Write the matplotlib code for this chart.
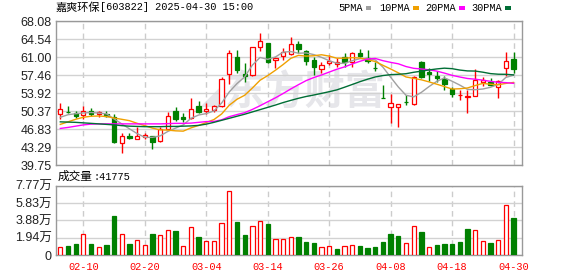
import numpy as np
import matplotlib.pyplot as plt
from matplotlib.patches import Rectangle

# trading days shown (MM-DD)
dates = ("02-05 02-06 02-07 02-10 02-11 02-12 02-13 02-14 02-17 02-18 02-19 02-20 "
         "02-21 02-24 02-25 02-26 02-27 02-28 03-03 03-04 03-05 03-06 03-07 03-10 "
         "03-11 03-12 03-13 03-14 03-17 03-18 03-19 03-20 03-21 03-24 03-25 03-26 "
         "03-27 03-28 03-31 04-01 04-02 04-03 04-07 04-08 04-09 04-10 04-11 04-14 "
         "04-15 04-16 04-17 04-18 04-21 04-22 04-23 04-24 04-25 04-28 04-29 04-30").split()

opens = [49.78, 50.30, 49.98, 49.70, 50.43, 49.80, 49.78, 49.31, 44.08, 45.55,
         44.86, 45.30, 45.52, 44.45, 46.90, 50.45, 49.30, 49.00, 51.40, 50.37,
         50.60, 51.50, 57.65, 61.00, 57.65, 57.46, 63.08, 63.75, 60.50, 61.20,
         61.70, 63.55, 62.20, 60.45, 58.60, 59.85, 59.65, 61.00, 60.15, 61.90,
         60.80, 58.90, 53.05, 51.20, 51.16, 52.30, 51.75, 60.00, 58.15, 57.30,
         56.70, 54.70, 53.50, 53.15, 53.45, 56.15, 56.20, 55.10, 58.85, 60.65]
highs = [51.95, 51.41, 50.49, 51.41, 50.96, 50.49, 50.50, 49.84, 46.05, 46.16,
         47.30, 46.16, 45.60, 47.20, 50.30, 51.15, 50.00, 52.95, 52.45, 52.00,
         51.55, 57.20, 62.40, 62.40, 59.80, 63.00, 65.70, 63.90, 61.00, 62.90,
         65.05, 64.20, 62.40, 61.10, 60.00, 61.45, 60.80, 61.78, 62.00, 62.60,
         62.43, 60.10, 55.55, 53.70, 51.80, 53.50, 57.40, 60.30, 58.90, 58.40,
         57.30, 55.20, 54.60, 54.50, 58.60, 57.10, 56.90, 56.55, 62.00, 62.00]
lows = [48.80, 49.98, 49.06, 48.80, 49.51, 49.31, 49.31, 44.20, 42.23, 44.86,
        44.86, 44.98, 43.02, 44.40, 46.80, 48.50, 48.30, 48.80, 50.00, 49.84,
        50.24, 51.20, 55.70, 57.85, 56.20, 57.30, 62.30, 59.80, 58.80, 60.50,
        61.40, 61.80, 59.50, 57.50, 57.85, 59.50, 59.03, 59.03, 59.00, 61.10,
        59.93, 58.35, 52.90, 48.10, 47.20, 51.60, 51.60, 57.00, 56.30, 56.10,
        54.60, 53.10, 52.50, 50.10, 53.40, 55.40, 55.40, 52.95, 57.30, 57.85]
closes = [50.77, 50.20, 49.45, 50.37, 49.90, 50.24, 49.45, 44.39, 45.52, 45.05,
          45.52, 45.75, 44.39, 46.98, 49.40, 48.80, 48.90, 50.80, 50.30, 50.83,
          51.35, 56.70, 61.78, 58.50, 57.35, 62.96, 64.20, 60.00, 60.80, 62.10,
          63.55, 62.55, 60.30, 59.15, 59.40, 60.25, 60.05, 60.15, 61.78, 61.35,
          60.35, 58.80, 52.95, 51.95, 51.75, 52.20, 57.18, 57.10, 57.65, 56.85,
          55.70, 53.85, 53.60, 53.40, 56.55, 56.60, 55.55, 56.40, 60.30, 58.70]
volumes = [8595, 10090, 12330, 23170, 12330, 8595, 11210, 43720, 23170, 12330,
           16440, 10840, 23540, 22050, 27650, 26900, 9716, 31020, 19810, 15320,
           15320, 35500, 71380, 36620, 22050, 32140, 37740, 34750, 17560, 17560,
           19810, 19810, 14570, 13450, 8595, 9716, 6727, 9716, 10840, 10090,
           7848, 8969, 14570, 23540, 21300, 13080, 32140, 25790, 8595, 10840,
           12330, 12330, 14570, 29150, 27650, 15320, 13450, 16440, 55680, 41775]

ma5 = [49.20, 49.70, 49.90, 50.05, 50.14, 50.03, 49.88, 48.87, 47.90, 46.93,
       45.99, 45.25, 45.25, 45.54, 46.41, 47.06, 47.69, 48.98, 49.64, 49.93,
       50.44, 52.00, 54.19, 55.83, 57.14, 59.46, 60.96, 60.60, 61.06, 62.01,
       62.13, 61.80, 61.86, 61.53, 60.99, 60.33, 59.83, 59.80, 60.33, 60.72,
       60.74, 60.49, 59.05, 57.08, 55.16, 53.53, 53.21, 54.10, 55.24, 56.26,
       56.96, 56.29, 55.53, 54.68, 54.62, 54.76, 55.10, 55.66, 57.04, 57.47]
ma10 = [47.80, 48.30, 48.80, 49.20, 49.40, 49.45, 49.35, 49.05, 48.80, 48.53,
        48.01, 47.56, 47.06, 46.72, 46.67, 46.53, 46.47, 47.11, 47.59, 48.17,
        48.75, 49.85, 51.58, 52.74, 53.53, 54.95, 56.48, 57.40, 58.45, 59.57,
        60.79, 61.38, 61.23, 61.30, 61.50, 61.23, 60.82, 60.83, 60.93, 60.85,
        60.53, 60.16, 59.42, 58.70, 57.94, 57.13, 56.85, 56.57, 56.16, 55.71,
        55.24, 54.75, 54.81, 54.96, 55.44, 55.86, 55.70, 55.60, 55.86, 56.05]
ma20 = [47.00, 47.20, 47.45, 47.70, 47.85, 47.90, 47.90, 47.90, 47.90, 47.90,
        47.90, 47.90, 47.90, 47.90, 47.95, 48.00, 48.00, 48.05, 48.20, 48.35,
        48.38, 48.70, 49.32, 49.73, 50.10, 50.74, 51.47, 52.25, 53.02, 53.87,
        54.77, 55.61, 56.41, 57.02, 57.52, 58.09, 58.65, 59.11, 59.69, 60.21,
        60.66, 60.77, 60.33, 60.00, 59.72, 59.18, 58.83, 58.70, 58.54, 58.28,
        57.89, 57.45, 57.12, 56.83, 56.69, 56.50, 56.27, 56.08, 56.01, 55.88]
ma30 = [48.30, 48.25, 48.20, 48.10, 48.00, 47.90, 47.80, 47.70, 47.55, 47.45,
        47.40, 47.35, 47.35, 47.35, 47.40, 47.40, 47.45, 47.50, 47.60, 47.85,
        48.20, 48.60, 49.00, 49.40, 49.80, 50.25, 50.70, 51.15, 51.60, 52.09,
        52.52, 52.93, 53.29, 53.58, 53.90, 54.23, 54.59, 55.11, 55.65, 56.20,
        56.69, 57.13, 57.41, 57.58, 57.66, 57.77, 58.05, 58.27, 58.51, 58.71,
        58.86, 58.76, 58.49, 58.32, 58.29, 58.07, 57.79, 57.67, 57.65, 57.54]

price_ticks = [39.75, 43.29, 46.83, 50.37, 53.92, 57.46, 61.00, 64.54, 68.08]
vol_ticks = [0, 19425, 38850, 58275, 77700]
vol_labels = ["0", "1.94万", "3.88万", "5.83万", "7.77万"]
tick_dates = ["02-10", "02-20", "03-04", "03-14", "03-26", "04-08", "04-18", "04-30"]

RED = "#ff0000"
GREEN = "#008000"
ma_colors = ["#a0a0a0", "#f0a000", "#ff00ff", "#006e35"]
W, H = 578, 276

plt.rcParams["font.family"] = ["Liberation Sans", "Noto Sans CJK SC", "DejaVu Sans"]
fig = plt.figure(figsize=(W / 100, H / 100), dpi=100)


def box(l, t, r, b):
    return [l / W, 1 - b / H, (r - l) / W, (b - t) / H]


ax = fig.add_axes(box(56, 21.3, 522, 165.3))
axv = fig.add_axes(box(56, 185.7, 522, 255))

x = np.arange(len(dates))
xt = [dates.index(d) for d in tick_dates]

for a in (ax, axv):
    a.set_xlim(-0.56, 60.1)
    for s in a.spines.values():
        s.set_color("#999999")
        s.set_linewidth(1.0)
    a.tick_params(length=0, labelsize=9, labelcolor="#222222", pad=3)
    a.set_xticks(xt)
    a.grid(axis="y", color="#d2d2d2", lw=1.0)
    a.grid(axis="x", color="#cccccc", lw=1.0, ls=(0, (4, 3)))
    a.set_axisbelow(True)

# price panel
ax.set_ylim(39.75, 68.08)
ax.set_yticks(price_ticks)
ax.set_yticklabels(["%.2f" % v for v in price_ticks])
ax.set_xticklabels([])

# watermark (logo + name)
ax.text(213 / W * W / 466 - 56 / 466, 0.5, "◢", transform=ax.transAxes, ha="center",
        va="center", fontsize=24, color="#e6e6ea", family="DejaVu Sans", zorder=0.5)
ax.text((305 - 56) / 466, 0.5, "东方财富", transform=ax.transAxes, ha="center",
        va="center", fontsize=29, fontweight="bold", color="#e6e6ea",
        family="Noto Sans CJK SC", zorder=0.5)

bw = 0.56
for i in x:
    o, h, l, c = opens[i], highs[i], lows[i], closes[i]
    up = c >= o
    col = RED if up else GREEN
    top, bot = max(o, c), min(o, c)
    ax.vlines(i, top, h, color=col, lw=1.0, zorder=3)
    ax.vlines(i, l, bot, color=col, lw=1.0, zorder=3)
    ax.bar(i, max(top - bot, 0.06), bottom=bot, width=bw,
           facecolor="white" if up else GREEN, edgecolor=col, lw=0.9, zorder=4)

for m, col in zip([ma5, ma10, ma20, ma30], ma_colors):
    ax.plot(x, m, color=col, lw=1.0, zorder=5)

# volume panel
axv.set_ylim(0, 77700)
axv.set_yticks(vol_ticks)
axv.set_yticklabels(vol_labels)
axv.set_xticklabels(tick_dates, color=RED, family="Liberation Mono", fontsize=7.4)
axv.tick_params(axis="x", pad=5)
for i in x:
    up = i == 0 or closes[i] >= closes[i - 1]
    axv.bar(i, volumes[i], width=bw, facecolor="white" if up else GREEN,
            edgecolor=RED if up else GREEN, lw=0.9, zorder=3)

# header texts
fig.text(56 / W, 1 - 7.5 / H, "嘉爽环保", family="Noto Sans CJK SC", fontsize=8,
         va="center", ha="left")
fig.text(100 / W, 1 - 7.5 / H, "[603822] 2025-04-30 15:00", family="Liberation Mono",
         fontsize=7.4, va="center", ha="left")
fig.text(57.5 / W, 1 - 176.5 / H, "成交量", family="Noto Sans CJK SC", fontsize=8.4,
         va="center", ha="left")
fig.text(93 / W, 1 - 176.5 / H, ":41775", family="Liberation Mono", fontsize=7.4,
         va="center", ha="left")

legend_items = [("5PMA", 338.3, 365.5), ("10PMA", 379.3, 413.3),
                ("20PMA", 425.0, 459.3), ("30PMA", 471.7, 505.0)]
for (name, tx, sx), col in zip(legend_items, ma_colors):
    fig.text(tx / W, 1 - 8.3 / H, name, family="Liberation Mono", fontsize=7.4,
             va="center", ha="left")
    fig.add_artist(Rectangle((sx / W, 1 - 10 / H), 5.5 / W, 3.5 / H,
                             transform=fig.transFigure, color=col, lw=0))

fig.savefig("out.png", dpi=100)
